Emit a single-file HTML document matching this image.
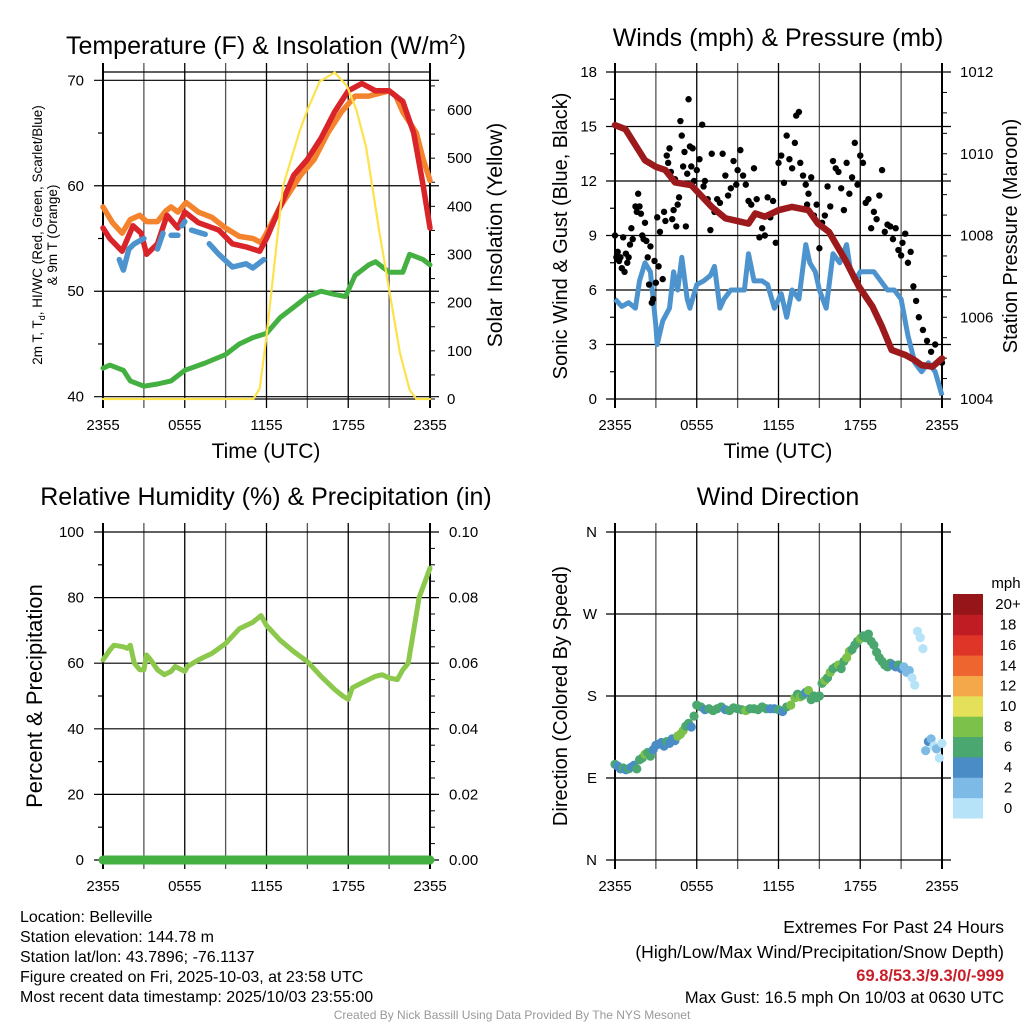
<!DOCTYPE html>
<html><head><meta charset="utf-8"><style>
html,body{margin:0;padding:0;background:#fff;}
svg{display:block;font-family:"Liberation Sans",Arial,sans-serif;}
</style></head><body>
<svg id="chart" width="1024" height="1024" viewBox="0 0 1024 1024" xmlns="http://www.w3.org/2000/svg">
<rect width="1024" height="1024" fill="#fff"/>
<text x="266" y="54" font-size="25" text-anchor="middle">Temperature (F) &amp; Insolation (W/m<tspan dy="-10" font-size="15">2</tspan><tspan dy="10">)</tspan></text>
<text x="778" y="46" font-size="25" text-anchor="middle">Winds (mph) &amp; Pressure (mb)</text>
<text x="266" y="505" font-size="25" text-anchor="middle">Relative Humidity (%) &amp; Precipitation (in)</text>
<text x="778" y="505" font-size="25" text-anchor="middle">Wind Direction</text>

<text transform="translate(42,235) rotate(-90)" font-size="13.5" text-anchor="middle">2m T, T<tspan font-size="9" dy="3">d</tspan><tspan dy="-3">, HI/WC (Red, Green, Scarlet/Blue)</tspan></text>
<text transform="translate(57,235) rotate(-90)" font-size="13.5" text-anchor="middle">&amp; 9m T (Orange)</text>
<text transform="translate(502,235) rotate(-90)" font-size="21" text-anchor="middle">Solar Insolation (Yellow)</text>
<text transform="translate(567,236) rotate(-90)" font-size="20" text-anchor="middle">Sonic Wind &amp; Gust (Blue, Black)</text>
<text transform="translate(1017,236) rotate(-90)" font-size="20" text-anchor="middle">Station Pressure (Maroon)</text>
<text transform="translate(42,696) rotate(-90)" font-size="22" text-anchor="middle">Percent &amp; Precipitation</text>
<text transform="translate(567,696) rotate(-90)" font-size="20" text-anchor="middle">Direction (Colored By Speed)</text>
<text x="266" y="458" font-size="21" text-anchor="middle">Time (UTC)</text>
<text x="778" y="458" font-size="21" text-anchor="middle">Time (UTC)</text>

<g font-size="16">
<text x="20" y="922">Location: Belleville</text>
<text x="20" y="942">Station elevation: 144.78 m</text>
<text x="20" y="962">Station lat/lon: 43.7896; -76.1137</text>
<text x="20" y="982">Figure created on Fri, 2025-10-03, at 23:58 UTC</text>
<text x="20" y="1002">Most recent data timestamp: 2025/10/03 23:55:00</text>
</g>
<g text-anchor="end">
<text x="1004" y="933" font-size="17.5">Extremes For Past 24 Hours</text>
<text x="1004" y="958" font-size="17.5">(High/Low/Max Wind/Precipitation/Snow Depth)</text>
<text x="1004" y="981" font-size="16.5" font-weight="bold" fill="#c8202a">69.8/53.3/9.3/0/-999</text>
<text x="1004" y="1003" font-size="16.5">Max Gust: 16.5 mph On 10/03 at 0630 UTC</text>
</g>
<text x="512" y="1019" font-size="12" fill="#999" text-anchor="middle">Created By Nick Bassill Using Data Provided By The NYS Mesonet</text>
</svg>
<script>
// ---------- data ----------
const xTickLabels = ["2355","0555","1155","1755","2355"];
// Temperature panel
const orangeT = [0,0.7,1.4,2.0,2.7,3.2,4.0,4.6,5.0,5.5,6.1,7.0,8.0,9.0,10.0,11.0,11.6,12.0,13.0,14.5,15.5,16.5,17.5,18.5,19.5,21.0,21.5,22.0,23.0,23.5,24.0];
const orangeV = [58,56.5,55.5,56.8,57.2,56.6,56.6,57.6,58,57.5,58.4,57.5,57,56,55.2,55,54.6,55.5,58,61,62.5,65,67,68.5,68.5,69,68.5,67,65,62.5,60.5];
const redT = [0,0.5,1.4,2.2,2.8,3.2,4.0,4.7,5.5,6.0,7.0,8.5,9.5,10.5,11.5,12.0,13.0,14.0,15.0,16.0,17.0,18.0,19.0,20.0,21.0,22.0,22.8,23.5,24.0];
const redV = [56,55,53.8,56.2,55.5,53.5,54.5,57.2,56,57.5,56.5,55.8,54.5,54.2,53.8,55,58,61,62.5,64.5,67,69,69.7,69,69,68,65,60,56];
const blueT = [1.2,1.5,1.9,2.3,3.0,null,4.0,4.4,null,5.0,5.5,null,5.8,6.0,null,6.5,7.0,7.5,null,7.8,8.5,9.5,10.5,11.0,11.8];
const blueV = [53,52,54,54.5,55,null,54,55.5,null,55.3,55.3,null,56.2,56.6,null,55.8,55.6,55.4,null,54.5,53.5,52.3,52.6,52.2,53];
const greenT = [0,0.5,1.5,2.0,3.0,4.0,5.0,6.0,7.5,9.0,10.0,11.0,12.0,13.0,14.0,15.0,16.0,17.0,17.8,18.5,19.5,20.0,21.0,22.0,22.5,23.5,24.0];
const greenV = [42.7,43,42.5,41.5,41,41.2,41.5,42.5,43.2,44,45,45.6,46,47.5,48.5,49.5,50,49.7,49.5,51.5,52.5,52.8,51.8,51.8,53.5,53,52.5];
const solarT = [0,11.03,11.5,12.0,13.2,14.45,15.0,15.9,17.0,17.9,18.6,19.3,20.3,21.05,21.8,22.5,23.0,24];
const solarV = [0,0,22,130,441,558,600,659,678,650,600,524,344,219,95,19,0,0];
const tempTicks = [40,50,60,70];
const solarTicks = [0,100,200,300,400,500,600];
// Winds panel
const windT = [0,0.5,1.0,1.5,1.8,2.2,2.6,3.0,3.1,3.5,4.0,4.3,4.6,4.9,5.3,5.5,6.0,6.5,7.0,7.3,7.7,8.0,8.5,9.0,9.5,9.8,10.2,10.8,11.2,11.7,12.2,12.6,13.0,13.5,14.0,14.3,14.7,15.0,15.5,16.0,16.5,17.0,17.3,17.6,18.0,18.5,19.0,19.5,20.0,20.5,21.0,21.5,22.0,22.5,23.0,23.5,24.0];
const windV = [5.5,5.1,5.3,5.0,6.5,7.5,7.0,4.0,3.0,4.3,5.0,7.0,6.0,7.8,5.5,5.0,6.3,6.5,6.8,7.3,5.0,5.5,6.0,6.0,6.0,8.0,6.5,6.5,6.3,5.0,5.8,4.5,6.0,5.5,8.5,7.5,7.0,6.0,5.0,8.0,7.5,8.5,7.0,6.5,7.0,7.0,7.0,6.5,6.0,6.0,5.5,3.5,2.0,1.5,2.0,1.5,0.2];
const pressT = [0,0.76,2.2,3.0,3.7,4.4,5.6,7.1,8.1,8.8,9.8,10.3,11.0,12.0,13.0,14.2,14.9,15.7,16.9,17.9,18.9,19.6,20.3,21.3,22.0,22.5,23.3,24.0];
const pressV = [1010.7,1010.6,1009.84,1009.68,1009.6,1009.3,1009.23,1008.7,1008.42,1008.37,1008.29,1008.54,1008.46,1008.62,1008.7,1008.62,1008.29,1008.09,1007.4,1006.75,1006.26,1005.77,1005.2,1005.08,1004.95,1004.83,1004.79,1004.99];
const gustT = [0,0.1,0.2,0.3,0.4,0.5,0.6,0.7,0.8,0.9,1.0,1.1,1.2,1.3,1.5,1.6,1.7,1.8,1.9,2.0,2.1,2.2,2.3,2.4,2.5,2.6,2.7,2.8,2.9,3.0,3.1,3.2,3.3,3.5,3.6,3.7,3.8,3.9,4.0,4.1,4.2,4.3,4.4,4.5,4.6,4.7,4.8,4.9,5.0,5.1,5.2,5.3,5.4,5.5,5.6,5.7,5.8,6.0,6.2,6.4,6.5,6.6,6.8,7.0,7.1,7.3,7.5,7.7,7.9,8.1,8.3,8.5,8.7,8.9,9.0,9.2,9.4,9.6,9.8,10.0,10.2,10.4,10.6,10.8,11.0,11.2,11.4,11.6,11.8,12.0,12.2,12.4,12.6,12.8,13.0,13.2,13.3,13.5,13.6,13.8,14.0,14.1,14.2,14.4,14.6,14.8,15.0,15.2,15.4,15.6,15.8,16.0,16.2,16.4,16.6,16.8,17.0,17.2,17.4,17.6,17.8,18.0,18.2,18.4,18.6,18.8,19.0,19.2,19.4,19.6,19.8,20.0,20.2,20.4,20.6,20.8,21.0,21.1,21.3,21.5,21.7,21.9,22.1,22.3,22.6,22.9,23.2,23.5,23.8,24.0];
const gustV = [9.0,7.8,8.1,7.6,7.8,7.2,8.9,7.0,8.0,7.5,7.8,8.5,9.4,8.8,10.6,10.3,11.3,10.6,10.2,9.0,8.8,9.7,8.7,7.8,6.3,8.4,5.3,5.5,7.6,6.4,10.0,7.3,9.2,6.6,10.3,9.8,13.4,13.0,13.8,12.5,9.9,10.4,12.1,9.5,10.7,11.1,15.3,14.5,12.8,13.6,9.5,12.4,16.5,13.9,12.8,13.8,12.0,12.6,13.2,15.1,11.7,12.0,11.0,9.3,13.5,10.3,11.0,10.8,13.5,12.3,11.2,11.6,13.1,11.8,12.6,13.7,12.3,11.8,10.9,10.7,12.7,11.0,8.9,9.4,9.0,11.1,10.0,10.9,8.6,13.0,13.4,11.9,14.5,13.2,12.7,14.1,15.6,15.8,13.0,12.3,11.8,10.7,11.3,12.2,10.1,10.7,8.3,9.7,10.1,11.7,10.6,13.1,12.7,12.5,11.6,10.4,13.0,11.3,12.2,14.1,11.8,13.4,13.0,10.8,11.0,9.4,10.3,9.9,11.2,12.6,9.2,9.6,9.5,8.8,9.4,8.2,7.9,8.6,9.1,7.5,8.1,6.2,5.4,4.5,3.8,3.2,2.6,3.0,2.1,2.0,2.6,1.8];
const windTicks = [0,3,6,9,12,15,18];
const pressTicks = [1004,1006,1008,1010,1012];
// Humidity panel
const rhT = [0,0.5,0.8,1.5,1.8,2.0,2.3,2.7,3.0,3.2,3.5,4.0,4.5,5.0,5.3,6.0,6.2,7.0,8.0,9.0,10.0,11.0,11.6,12.0,13.0,14.0,15.0,16.0,17.0,17.6,18.0,18.3,19.0,20.0,20.5,21.0,21.6,22.0,22.4,22.8,23.2,24.0];
const rhV = [61,64,65.5,65,64.5,65.5,60,58,58,62.5,61,58,56.5,57.5,59,57.5,59,61,63,66,70.5,72.5,74.5,71.5,67,63.5,60.5,56,52,50,49,52.5,54,56,56.5,55.5,55,58,60,70,80,89];
const precipT = [0,24];
const precipV = [0,0];
const rhTicks = [0,20,40,60,80,100];
const precipTicks = ["0.00","0.02","0.04","0.06","0.08","0.10"];
// Wind direction panel
const dirT = [0,0.2,0.4,0.6,0.8,1.0,1.2,1.4,1.6,1.8,2.0,2.2,2.4,2.6,2.8,3.0,3.2,3.4,3.6,3.8,4.0,4.2,4.4,4.6,4.8,5.0,5.2,5.4,5.6,5.8,6.0,6.3,6.6,6.9,7.2,7.5,7.8,8.1,8.4,8.7,9.0,9.3,9.6,9.9,10.2,10.5,10.8,11.1,11.4,11.7,12.0,12.3,12.6,12.9,13.2,13.4,13.6,13.8,14.0,14.2,14.4,14.6,14.8,15.0,15.2,15.4,15.6,15.8,16.0,16.2,16.4,16.6,16.8,17.0,17.2,17.4,17.6,17.8,18.0,18.2,18.4,18.6,18.8,19.0,19.2,19.4,19.6,19.8,20.0,20.2,20.4,20.6,20.8,21.0,21.2,21.4,21.6,21.8,22.0,22.2,22.4,22.6,22.8,23.0,23.2,23.4,23.6,23.8,24.0];
const dirV = [105,103,100,101,99,100,102,104,100,110,112,116,118,114,121,126,127,129,125,130,128,133,131,136,138,142,147,150,146,158,170,168,165,166,164,166,168,165,164,167,166,165,164,166,166,165,168,166,166,166,165,163,168,170,178,182,179,181,184,186,176,180,178,180,194,197,200,206,210,212,214,210,218,222,229,231,236,240,243,246,244,248,240,236,228,222,218,214,212,216,214,212,214,210,212,206,208,200,192,251,244,232,120,130,133,125,122,112,128];
const dirS = [6,4,4,6,4,6,4,4,6,6,6,8,6,6,4,4,4,4,4,6,4,4,4,8,8,8,6,6,4,6,6,6,4,6,6,6,6,4,6,6,6,6,8,6,6,6,6,6,4,4,6,4,6,8,8,6,8,6,4,8,6,6,6,6,6,8,6,8,6,6,8,6,6,8,8,6,6,6,8,6,6,6,6,6,6,6,6,6,6,6,4,4,6,4,2,2,2,0,0,0,0,0,2,4,2,0,2,0,0];
const dirTickLabels = ["N","E","S","W","N"];
const cbLabels = ["0","2","4","6","8","10","12","14","16","18","20+"];
const cbColors = ["#b6e3f8","#7dbbe6","#4a8cc6","#4aa76f","#7cc14a","#e5e05a","#f5a84a","#ee6530","#df3528","#c01c24","#961519"];

// ---------- drawing ----------
const NS = "http://www.w3.org/2000/svg";
const svg = document.getElementById("chart");
function mk(tag, attrs, parent){const e=document.createElementNS(NS,tag);for(const k in attrs)e.setAttribute(k,attrs[k]);(parent||svg).appendChild(e);return e;}
function linePath(T,V,fx,fy){let d="",pen=false;for(let i=0;i<T.length;i++){if(T[i]===null||V[i]===null){pen=false;continue;}d+=(pen?"L":"M")+fx(T[i]).toFixed(1)+","+fy(V[i]).toFixed(1);pen=true;}return d;}

function frame(px, top, bot, name){
  const L=px;
  const g=mk("g",{});
  
  
  for(let i=0;i<=8;i++){
    const x=L+i*327/8;
    const gl=mk("line",{x1:x,x2:x,y1:top-9,y2:bot+9,stroke:i%2?"#555":"#000","stroke-width":i===0||i===8?2:1.3},g);
    
    
  }
  for(let i=0;i<xTickLabels.length;i++){
    const t=mk("text",{x:L+i*327/4,y:bot+31,"font-size":15,"text-anchor":"middle"},g);
    t.textContent=xTickLabels[i];
    
    
  }
  return g;
}
function hGrid(g,L,y,minor){
  const ln=mk("line",{x1:minor?L-5:L-9,x2:minor?L:L+336,y1:y,y2:y,stroke:"#000","stroke-width":1.2},g);
  
  
}
function rMinor(g,R,y){const ln=mk("line",{x1:R,x2:R+5,y1:y,y2:y,stroke:"#000","stroke-width":1},g);}
function label(g,x,y,txt,anchor,name){const t=mk("text",{x:x,y:y,"font-size":15,"text-anchor":anchor},g);t.textContent=txt;return t;}

// Panel 1: temperature
(function(){
  const L=103,top=72,bot=399;
  const x=h=>L+h*327/24;
  const yT=v=>396.7-(v-40)*(316.4/30);
  const yS=v=>399-v*(289/600);
  const g=frame(L,top,bot,'temperature');
  mk("line",{x1:L,x2:L+327,y1:top,y2:top,stroke:"#000","stroke-width":1.3},g);
  mk("line",{x1:L,x2:L+327,y1:bot,y2:bot,stroke:"#000","stroke-width":1.3},g);
  tempTicks.forEach(v=>{hGrid(g,L,yT(v));label(g,84,yT(v)+5,String(v),"end",'temperature-tick-label');});
  [45,55,65].forEach(v=>hGrid(g,L,yT(v),true));
  for(let v=0;v<=650;v+=50)rMinor(g,L+327,yS(v));
  solarTicks.forEach(v=>label(g,447,yS(v)+5,String(v),"start",'insolation-tick-label'));
  const series=[[greenT,greenV,"#44b041","dewpoint-line",yT,5],[orangeT,orangeV,"#f4832e","9m-temperature-line",yT,5.5],[redT,redV,"#d9242a","2m-temperature-line",yT,5.5],[blueT,blueV,"#4d94cf","heat-index-line",yT,5.5],[solarT,solarV,"#fde24c","solar-insolation-line",yS,2.2]];
  series.forEach(s=>{
    const p=mk("path",{d:linePath(s[0],s[1],x,s[4]),fill:"none",stroke:s[2],"stroke-width":s[5],"stroke-linejoin":"round","stroke-linecap":"round"});
    
    
  });
})();

// Panel 2: winds
(function(){
  const L=615,top=72,bot=399;
  const x=h=>L+h*327/24;
  const yW=v=>399-v*(327/18);
  const yP=v=>399-(v-1004)*(327/8);
  const g=frame(L,top,bot,'winds');
  windTicks.forEach(v=>{hGrid(g,L,yW(v));label(g,597,yW(v)+5,String(v),"end",'wind-tick-label');});
  [1.5,4.5,7.5,10.5,13.5,16.5].forEach(v=>hGrid(g,L,yW(v),true));
  for(let v=1004;v<=1012;v+=0.5)rMinor(g,L+327,yP(v));
  pressTicks.forEach(v=>label(g,960,yP(v)+5,String(v),"start",'pressure-tick-label'));
  const w=mk("path",{d:linePath(windT,windV,x,yW),fill:"none",stroke:"#4d94cf","stroke-width":5,"stroke-linejoin":"round"});
  
  
  for(let i=0;i<gustT.length;i++){
    const c=mk("circle",{cx:x(gustT[i]),cy:yW(gustV[i]),r:3.2,fill:"#000"});
    
    
  }
  const p=mk("path",{d:linePath(pressT,pressV,x,yP),fill:"none",stroke:"#9c1a1c","stroke-width":6.5,"stroke-linejoin":"round","stroke-linecap":"round"});
  
  
})();

// Panel 3: humidity
(function(){
  const L=103,top=532,bot=860;
  const x=h=>L+h*327/24;
  const y=v=>860-v*(328/100);
  const yPr=v=>860-v*(328/0.1);
  const g=frame(L,top,bot,'humidity');
  rhTicks.forEach((v,i)=>{hGrid(g,L,y(v));label(g,84,y(v)+5,String(v),"end",'humidity-tick-label');label(g,449,y(v)+5,precipTicks[i],"start",'precip-tick-label');});
  for(let v=10;v<100;v+=20)hGrid(g,L,y(v),true);
  for(let v=5;v<100;v+=5)rMinor(g,L+327,y(v));
  const r=mk("path",{d:linePath(rhT,rhV,x,y),fill:"none",stroke:"#8cc84b","stroke-width":5,"stroke-linejoin":"round","stroke-linecap":"round"});
  
  
  const pr=mk("path",{d:linePath(precipT,precipV,x,yPr),fill:"none",stroke:"#44b041","stroke-width":9,"stroke-linecap":"round"});
  
  
})();

// Panel 4: wind direction
(function(){
  const L=615,top=532,bot=860;
  const x=h=>L+h*327/24;
  const y=v=>860-v*(328/360);
  const g=frame(L,top,bot,'direction');
  dirTickLabels.forEach((s,i)=>{hGrid(g,L,y(i*90));label(g,597,y(i*90)+5,s,"end",'direction-tick-label');});
  for(let i=0;i<dirT.length;i++){
    const c=mk("circle",{cx:x(dirT[i]),cy:y(dirV[i]),r:4.6,fill:cbColors[Math.min(10,Math.round(dirS[i]/2))]});
    
    
  }
  const cb=mk("g",{});
  
  
  const t=mk("text",{x:1006,y:588,"font-size":15,"text-anchor":"middle"},cb);
  t.textContent="mph";
  
  
  const h=224/11;
  for(let i=0;i<cbColors.length;i++){
    const yy=818-(i+1)*h;
    const r=mk("rect",{x:953,y:yy,width:30,height:h+0.5,fill:cbColors[i]},cb);
    
    
    label(cb,1008,yy+h/2+5,cbLabels[i],"middle",'colorbar-label');
  }
})();
</script>
</body></html>
